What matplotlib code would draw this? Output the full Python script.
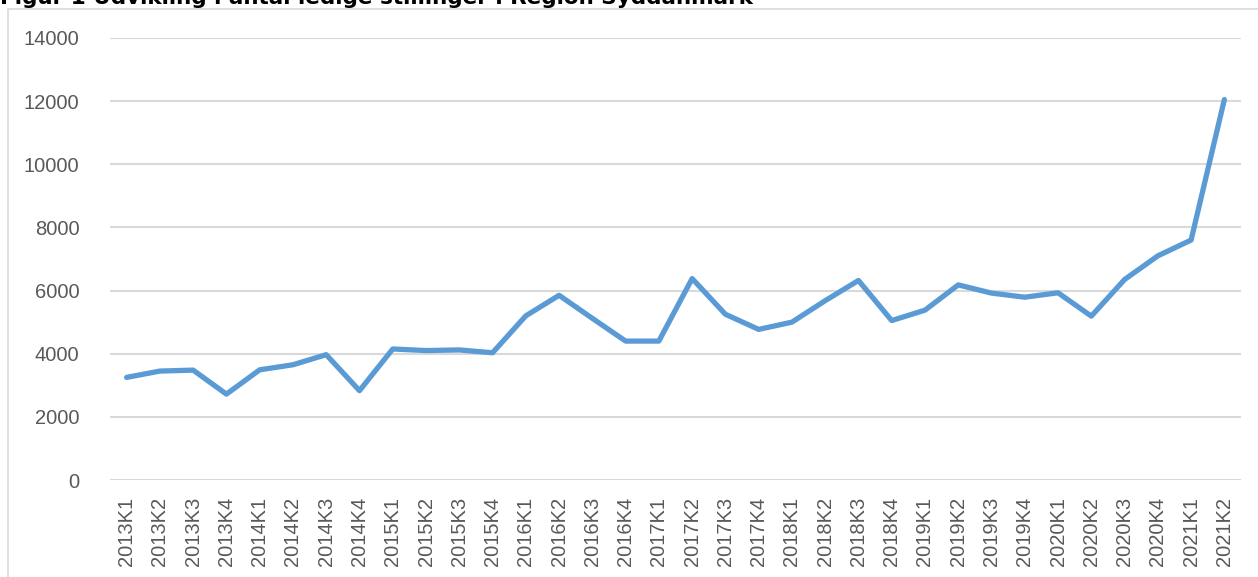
import numpy as np
import matplotlib
matplotlib.use("Agg")
import matplotlib.pyplot as plt
from matplotlib.patches import Rectangle

# quarters 2013K1 .. 2021K2
quarters = [f"{y}K{q}" for y in range(2013, 2022) for q in range(1, 5)][:34]
ledige = [3250, 3450, 3480, 2720, 3490, 3650, 3970, 2830,
          4150, 4100, 4120, 4030, 5200, 5850, 5120, 4400,
          4400, 6380, 5250, 4770, 5000, 5680, 6320, 5050,
          5380, 6180, 5920, 5790, 5930, 5190, 6350, 7100,
          7600, 12050]
yticks = [0, 2000, 4000, 6000, 8000, 10000, 12000, 14000]

title = "Figur 1 Udvikling i antal ledige stillinger i Region Syddanmark"

fig = plt.figure(figsize=(12.58, 5.77), dpi=100)
ax = fig.add_axes([110 / 1258, 1 - 480 / 577, 1131 / 1258, 442 / 577])

x = np.arange(len(ledige))
ax.plot(x, ledige, color="#5b9bd5", linewidth=3.8, solid_joinstyle="round",
        solid_capstyle="round", zorder=3)

ax.set_xlim(-0.5, len(ledige) - 0.5)
ax.set_ylim(0, 14000)
ax.set_yticks(yticks)
ax.set_yticklabels([str(v) for v in yticks])
ax.set_xticks(x)
ax.set_xticklabels(quarters, rotation=90)
ax.tick_params(axis="both", length=0, colors="#595959", labelsize=14.5)
ax.tick_params(axis="y", pad=22)
ax.tick_params(axis="x", pad=12)
for lab in ax.get_xticklabels() + ax.get_yticklabels():
    lab.set_family("Liberation Sans")

ax.grid(axis="y", color="#d9d9d9", linewidth=1.5)
ax.set_axisbelow(True)
for s in ax.spines.values():
    s.set_visible(False)

# chart border
fig.patches.append(Rectangle((8 / 1258, -0.01), 1.0, 1 - 9 / 577 + 0.01,
                             transform=fig.transFigure, fill=False,
                             edgecolor="#d9d9d9", linewidth=1.2))

# title (cropped at top in the original)
fig.text(0.0, 1 - 4 / 577, title, fontsize=15.5, fontweight="bold",
         color="black", ha="left", va="baseline", family="DejaVu Sans")

fig.savefig("out.png", dpi=100)
